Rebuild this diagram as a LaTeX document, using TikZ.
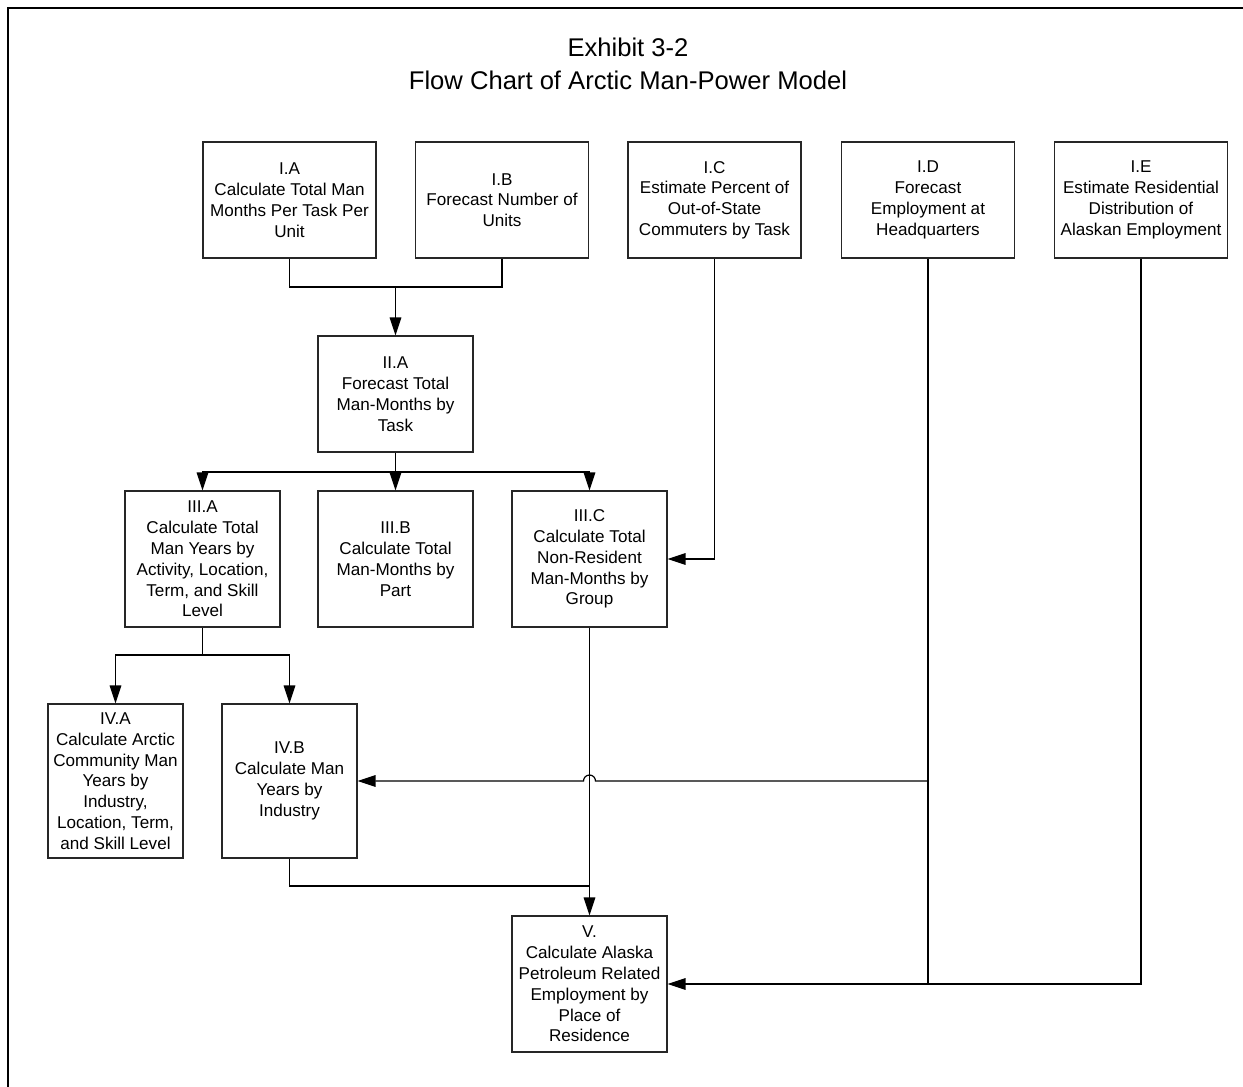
\documentclass[tikz,border=0pt]{standalone}
\usepackage{fontspec}
\setmainfont{Liberation Sans}
\usetikzlibrary{arrows.meta}
\tikzstyle{every path}=[line width=0.6pt, line join=miter]
\tikzstyle{caja}=[draw=black!85, line width=0.55pt, align=center, inner sep=0pt, font=\fontsize{8.55}{10.4}\selectfont]
\tikzstyle{flecha}=[-{Triangle[length=9pt,width=5.8pt]}]

\begin{document}
\begin{tikzpicture}[x=0.5pt,y=-0.5pt]
          \useasboundingbox (0,0) rectangle (1243,1087);
          %marco
          \draw[line width=1pt] (8,1100) -- (8,8) -- (1250,8);
          %titulo
          \node[align=center, font=\fontsize{12.8}{16.5}\selectfont] (titulo) at (628,64) {Exhibit 3-2\\Flow Chart of Arctic Man-Power Model};
          %nivel I
          \node[caja, minimum width=86.5pt, minimum height=58pt] (ia) at (289.5,200) {I.A\\Calculate Total Man\\Months Per Task Per\\Unit};
          \node[caja, minimum width=86.5pt, minimum height=58pt] (ib) at (502,200) {I.B\\Forecast Number of\\Units};
          \node[caja, minimum width=86.5pt, minimum height=58pt] (ic) at (714.5,200) {I.C\\Estimate Percent of\\Out-of-State\\Commuters by Task};
          \node[caja, minimum width=86.5pt, minimum height=58pt] (id) at (928,200) {I.D\\Forecast\\Employment at\\Headquarters};
          \node[caja, minimum width=86.5pt, minimum height=58pt] (ie) at (1141,200) {I.E\\Estimate Residential\\Distribution of\\Alaskan Employment};
          %nivel II
          \node[caja, minimum width=77.5pt, minimum height=58pt] (iia) at (395.5,394) {II.A\\Forecast Total\\Man-Months by\\Task};
          %nivel III
          \node[caja, minimum width=77.5pt, minimum height=68pt] (iiia) at (202.5,559) {III.A\\Calculate Total\\Man Years by\\Activity, Location,\\Term, and Skill\\Level};
          \node[caja, minimum width=77.5pt, minimum height=68pt] (iiib) at (395.5,559) {III.B\\Calculate Total\\Man-Months by\\Part};
          \node[caja, minimum width=77.5pt, minimum height=68pt] (iiic) at (589.5,559) {III.C\\Calculate Total\\Non-Resident\\Man-Months by\\Group};
          %nivel IV
          \node[caja, minimum width=67.5pt, minimum height=77pt] (iva) at (115.5,781) {IV.A\\Calculate Arctic\\Community Man\\Years by\\Industry,\\Location, Term,\\and Skill Level};
          \node[caja, minimum width=67.5pt, minimum height=77pt] (ivb) at (289.5,781) {IV.B\\Calculate Man\\Years by\\Industry};
          %nivel V
          \node[caja, minimum width=77.5pt, minimum height=68pt] (v) at (589.5,984) {V.\\Calculate Alaska\\Petroleum Related\\Employment by\\Place of\\Residence};
          %uniones
          \coordinate (j1) at (395.5,287);
          \coordinate (j2) at (395.5,472);
          \coordinate (j3) at (202.5,655);
          \coordinate (j4) at (589.5,886);
          \coordinate (j5) at (928,781);
          \coordinate (salto) at (589.5,781);
          %conectores
          \draw (ia.south) |- (j1) -| (ib.south);
          \draw[flecha] (j1) -- (iia.north);
          \draw (iia.south) -- (j2);
          \draw[flecha] (j2) -| (iiia.north);
          \draw[flecha] (j2) -- (iiib.north);
          \draw[flecha] (j2) -| (iiic.north);
          \draw[flecha] (ic.south) |- (iiic.east);
          \draw (iiia.south) -- (j3);
          \draw[flecha] (j3) -| (iva.north);
          \draw[flecha] (j3) -| (ivb.north);
          \draw[flecha] (iiic.south) -- (v.north);
          \draw (ivb.south) |- (j4);
          \draw (id.south) -- (id.south |- v.east);
          \draw[flecha] (j5) -- ([xshift=3pt]salto) arc[start angle=0, end angle=180, radius=3pt] -- (ivb.east);
          \draw[flecha] (ie.south) |- (v.east);
        \end{tikzpicture}
\end{document}
